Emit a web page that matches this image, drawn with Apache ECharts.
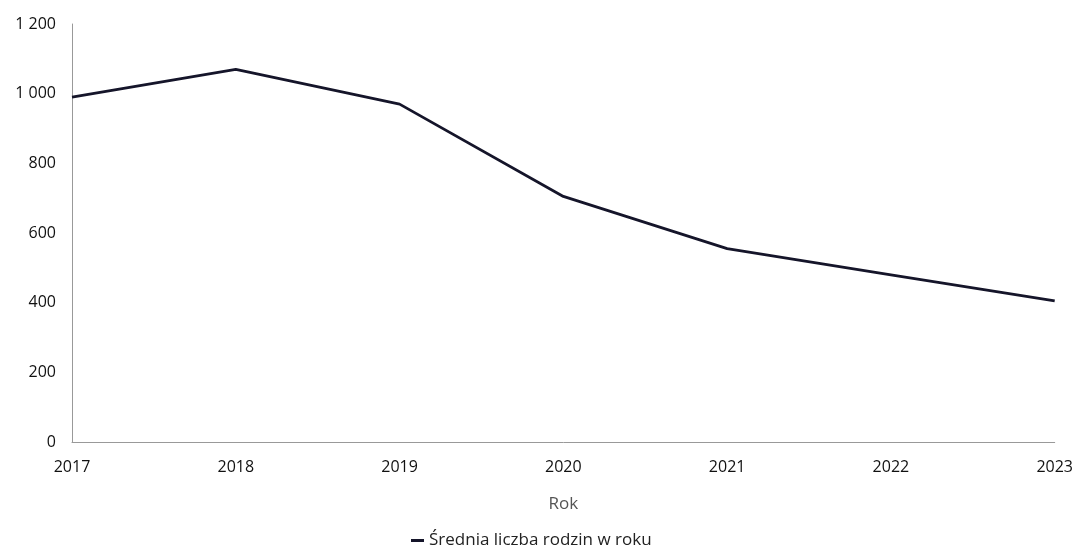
<!DOCTYPE html>
<html><head><meta charset="utf-8">
<script src="https://cdn.jsdelivr.net/npm/echarts@6/dist/echarts.min.js"></script>
<style>html,body{margin:0;padding:0;background:#fff}#c{width:1076px;height:548px}</style>
</head><body><div id="c"></div>
<script>
const years = ['2017','2018','2019','2020','2021','2022','2023'];
const values = [990, 1070, 970, 705, 555, 480, 405];
const seriesName = 'Średnia liczba rodzin w roku';
const xName = 'Rok';

const font = '"Open Sans", "Noto Sans", sans-serif';
const chart = echarts.init(document.getElementById('c'));
chart.setOption({
  animation: false,
  textStyle: { fontFamily: font },
  grid: { left: 72, right: 19, top: 24, bottom: 106 },
  legend: {
    top: 527, left: 406,
    icon: 'rect', itemWidth: 13, itemHeight: 3, itemGap: 6,
    textStyle: { fontSize: 17, color: '#222', fontFamily: font },
    data: [seriesName]
  },
  xAxis: {
    type: 'category', data: years, boundaryGap: false,
    name: xName, nameLocation: 'middle', nameGap: 54,
    nameTextStyle: { fontSize: 17, color: '#555' },
    axisLine: { lineStyle: { color: '#999', width: 1 } },
    axisTick: { show: false },
    axisLabel: { fontSize: 16, color: '#111', margin: 17 }
  },
  yAxis: {
    type: 'value', min: 0, max: 1200, interval: 200,
    axisLine: { show: true, lineStyle: { color: '#999', width: 1 } },
    axisTick: { show: false },
    splitLine: { show: false },
    axisLabel: { fontSize: 16, color: '#111', margin: 16,
      formatter: v => String(v).replace(/\B(?=(\d{3})+(?!\d))/g, ' ') }
  },
  series: [{
    name: seriesName, type: 'line', data: values,
    showSymbol: false, symbol: 'none',
    lineStyle: { color: '#15152a', width: 2.8 },
    itemStyle: { color: '#15152a' }
  }]
});
</script></body></html>
